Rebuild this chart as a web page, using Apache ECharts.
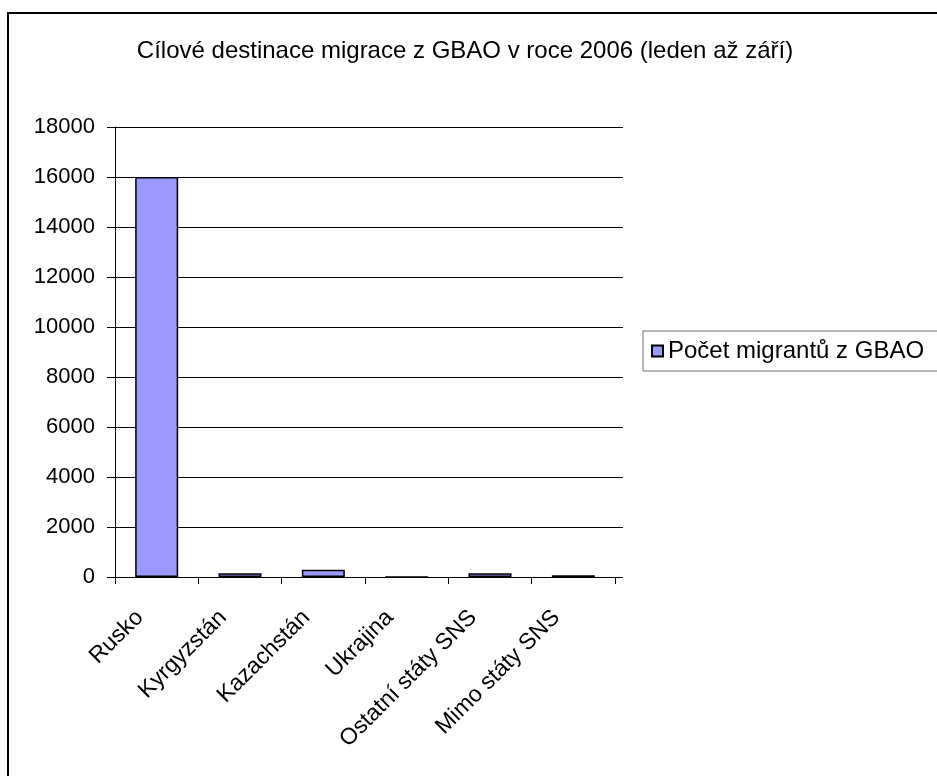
<!DOCTYPE html>
<html>
<head>
<meta charset="utf-8">
<script src="https://cdn.jsdelivr.net/npm/echarts@6/dist/echarts.min.js"></script>
<style>
  html, body { margin: 0; padding: 0; background: #fff; }
  #myChart { width: 937px; height: 776px; }
</style>
</head>
<body>
<div id="myChart"></div>
<script>
var titleText = 'Cílové destinace migrace z GBAO v roce 2006 (leden až září)';
var seriesName = 'Počet migrantů z GBAO';
var categories = ['Rusko', 'Kyrgyzstán', 'Kazachstán', 'Ukrajina', 'Ostatní státy SNS', 'Mimo státy SNS'];
var migrants = [16000, 150, 290, 0, 150, 70];
var yTicks = [0, 2000, 4000, 6000, 8000, 10000, 12000, 14000, 16000, 18000];

var font = 'Arial, "Liberation Sans", sans-serif';
var yMin = yTicks[0], yMax = yTicks[yTicks.length - 1], yStep = yTicks[1] - yTicks[0];

var myChart = echarts.init(document.getElementById('myChart'));
var option = {
    animation: false,
    backgroundColor: '#fff',
    textStyle: { fontFamily: font },
    title: {
        text: titleText,
        left: 460,
        top: 34,
        textAlign: 'center',
        textStyle: { fontSize: 24, fontWeight: 'normal', color: '#000', fontFamily: font }
    },
    graphic: [{
        type: 'rect',
        shape: { x: 8, y: 13, width: 1000, height: 900 },
        style: { fill: 'none', stroke: '#000', lineWidth: 2 },
        silent: true
    }],
    legend: {
        data: [seriesName],
        left: 643,
        top: 331,
        padding: [8, 30, 8, 8],
        borderColor: '#707070',
        borderWidth: 1,
        itemWidth: 11,
        itemHeight: 11,
        itemGap: 0,
        icon: 'rect',
        textStyle: { fontSize: 24, color: '#000', fontFamily: font }
    },
    grid: [
        { left: 115, right: 937 - 615, top: 127, bottom: 776 - 577 },
        { left: 115, right: 937 - 623, top: 127, bottom: 776 - 577 }
    ],
    xAxis: [{
        type: 'category',
        gridIndex: 0,
        data: categories,
        axisLine: { lineStyle: { color: '#000', width: 1 } },
        axisTick: { show: true, length: 7, lineStyle: { color: '#000' } },
        axisLabel: {
            rotate: 45,
            interval: 0,
            margin: 20,
            padding: [0, 24, 0, 0],
            fontSize: 23,
            color: '#000',
            fontFamily: font
        }
    }, {
        type: 'value',
        gridIndex: 1,
        show: false
    }],
    yAxis: [{
        type: 'value',
        gridIndex: 0,
        min: yMin,
        max: yMax,
        interval: yStep,
        axisLine: { show: true, lineStyle: { color: '#000', width: 1 } },
        axisTick: { show: true, length: 8, lineStyle: { color: '#000' } },
        axisLabel: {
            fontSize: 22, color: '#000', margin: 20, fontFamily: font,
            formatter: function (v) { return String(v); }
        },
        splitLine: { show: false }
    }, {
        type: 'value',
        gridIndex: 1,
        min: yMin,
        max: yMax,
        interval: yStep,
        axisLine: { show: false },
        axisTick: { show: false },
        axisLabel: { show: false },
        splitLine: { show: true, lineStyle: { color: '#000', width: 1 } }
    }],
    series: [{
        name: seriesName,
        type: 'bar',
        xAxisIndex: 0,
        yAxisIndex: 0,
        data: migrants,
        barWidth: 43,
        z: 3,
        itemStyle: { color: '#9999FF', borderColor: '#000', borderWidth: 1.5 }
    }]
};
myChart.setOption(option);
</script>
</body>
</html>
